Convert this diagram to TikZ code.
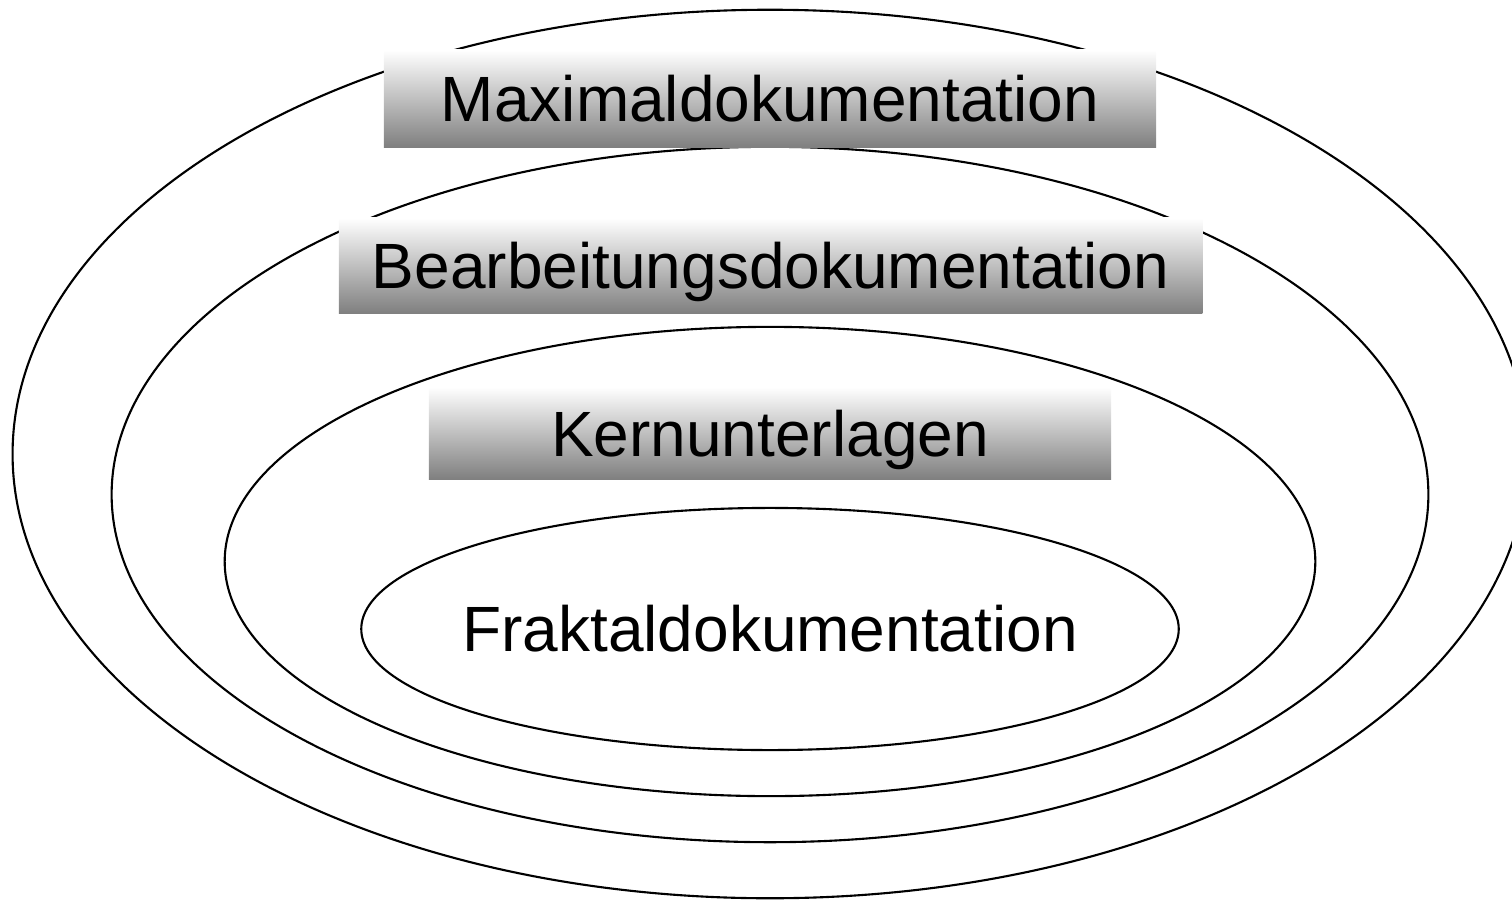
\documentclass[tikz,border=0pt]{standalone}
\usepackage{fontspec}
\setmainfont{Liberation Sans}
\usetikzlibrary{shapes.geometric}
\begin{document}
\begin{tikzpicture}[x=0.01cm,y=0.01cm,
ring/.style={draw, ellipse, line width=0.6pt, inner sep=0pt},
bar/.style={top color=white, bottom color=black!50, inner sep=0pt, text height=0.46cm, text depth=0pt}]

\useasboundingbox (0,0) rectangle (1512,899);

\begin{scope}[every node/.style={font=\fontsize{18.2}{22}\selectfont}]
\node[ring, minimum width=15.14cm, minimum height=8.88cm](maxring) at(770,445) {};
\node[ring, minimum width=13.16cm, minimum height=6.95cm](bearring) at(770,404.5) {};
\node[ring, minimum width=10.90cm, minimum height=4.69cm](kernring) at(770,337.5) {};
\node[ring, minimum width=8.17cm, minimum height=2.42cm](fraktalring) at(770,270) {};
\node(fraktal) at(fraktalring.center) {Fraktaldokumentation};

\node[bar, minimum width=7.72cm, minimum height=0.97cm](maxbar) at(770,800.5) {Maximaldokumentation};
\node[bar, minimum width=8.63cm, minimum height=0.95cm](bearbar) at(770.5,633.5) {Bearbeitungsdokumentation};
\node[bar, minimum width=6.82cm, minimum height=0.92cm](kernbar) at(770,466) {Kernunterlagen};
\end{scope}

\end{tikzpicture}
\end{document}
